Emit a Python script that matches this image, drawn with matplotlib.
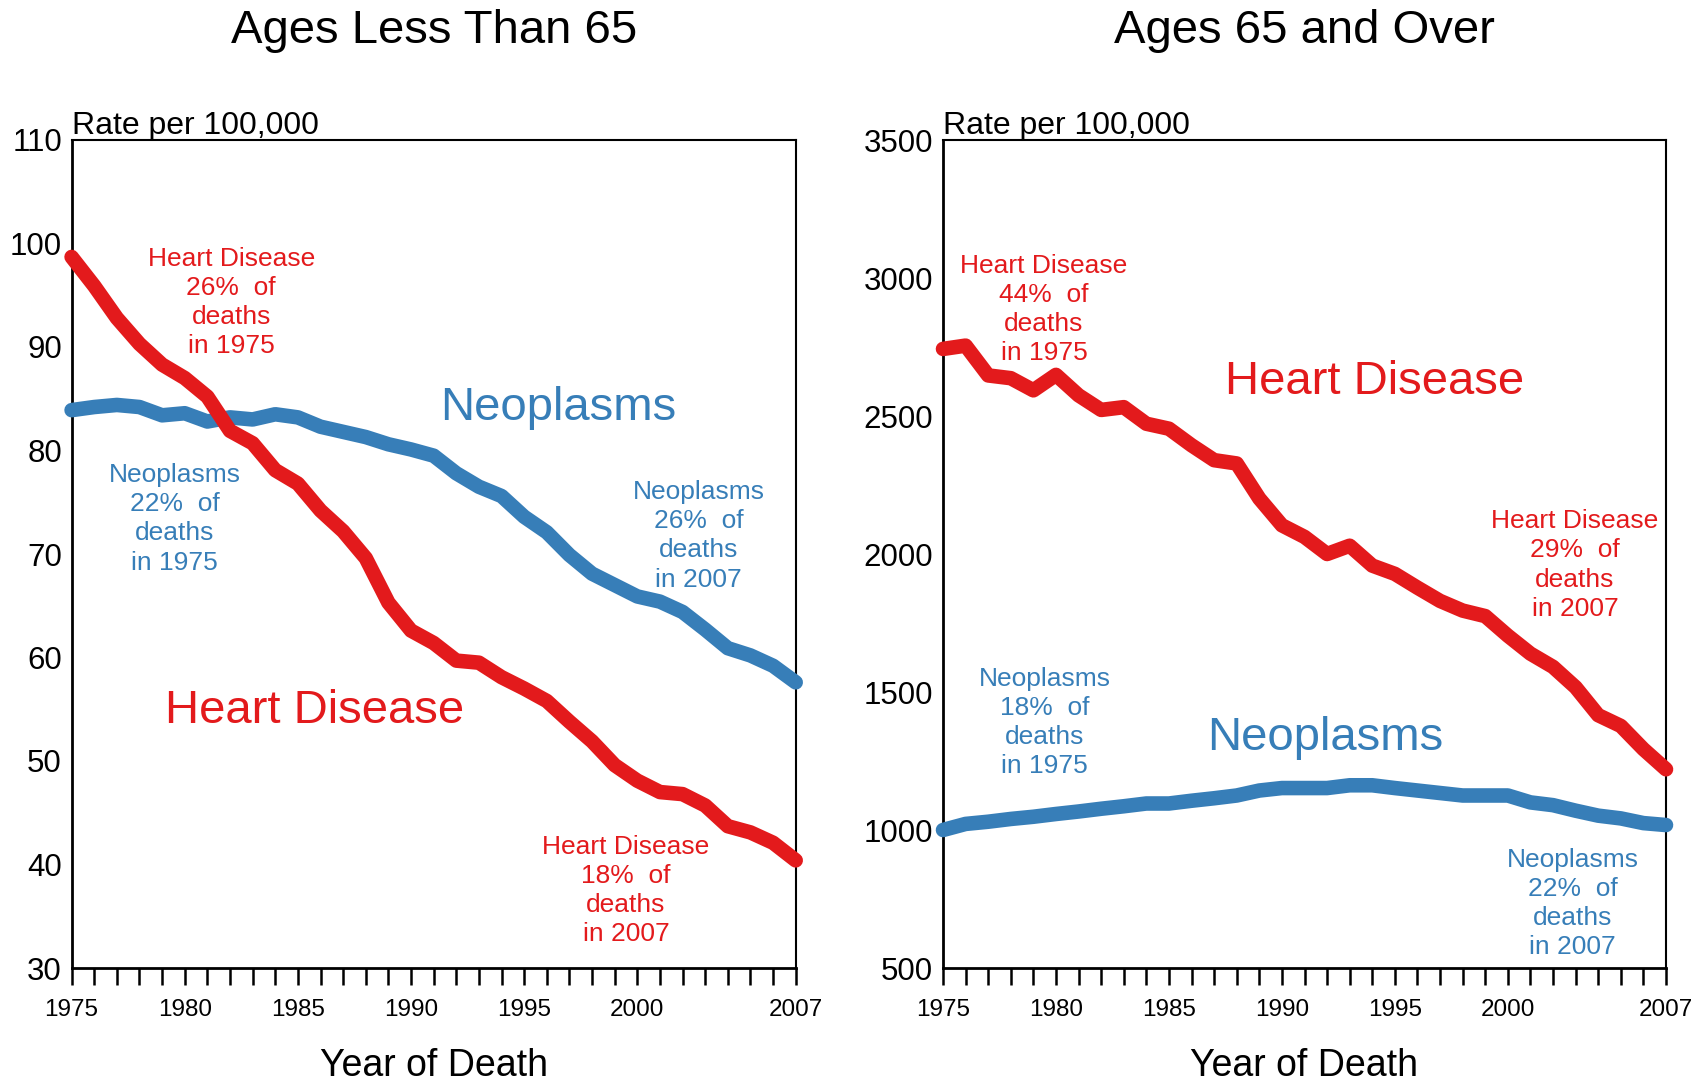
import matplotlib
matplotlib.use("Agg")
import matplotlib.pyplot as plt
import numpy as np

plt.rcParams['font.family'] = ['Liberation Sans', 'DejaVu Sans']

years = list(range(1975, 2008))

# Ages less than 65 (rate per 100,000)
heart_u65 = [98.7, 95.9, 92.8, 90.3, 88.3, 87.0, 85.2, 81.9, 80.7, 78.1, 76.8,
             74.2, 72.2, 69.6, 65.3, 62.6, 61.4, 59.7, 59.5, 58.1, 57.0, 55.8,
             53.8, 51.9, 49.6, 48.1, 47.0, 46.8, 45.7, 43.7, 43.1, 42.1, 40.4]
neo_u65 = [83.9, 84.2, 84.4, 84.2, 83.4, 83.6, 82.8, 83.2, 83.0, 83.5, 83.2,
           82.3, 81.8, 81.3, 80.6, 80.1, 79.5, 77.8, 76.5, 75.6, 73.6, 72.1,
           69.9, 68.1, 67.0, 65.9, 65.4, 64.4, 62.7, 60.9, 60.2, 59.2, 57.6]

# Ages 65 and over (rate per 100,000)
heart_65p = [2743, 2755, 2647, 2637, 2593, 2649, 2575, 2522, 2532, 2472, 2454,
             2394, 2340, 2328, 2201, 2104, 2062, 2000, 2030, 1958, 1928, 1878,
             1830, 1795, 1775, 1704, 1639, 1591, 1517, 1416, 1377, 1293, 1220]
neo_65p = [1000, 1022, 1030, 1040, 1048, 1058, 1067, 1077, 1086, 1096, 1096,
           1106, 1115, 1125, 1143, 1152, 1152, 1152, 1162, 1162, 1152, 1143,
           1134, 1125, 1125, 1125, 1100, 1090, 1070, 1052, 1042, 1025, 1018]

xtick_labels = [1975, 1980, 1985, 1990, 1995, 2000, 2007]

RED = '#E31A1C'
BLUE = '#377EB8'

fig = plt.figure(figsize=(17.02, 10.86), dpi=100)
W, H = 1702, 1086
axL = fig.add_axes([71.6 / W, 1 - 968 / H, (795.7 - 71.6) / W, (968 - 140) / H])
axR = fig.add_axes([943 / W, 1 - 968 / H, (1666 - 943) / W, (968 - 140) / H])


def style(ax, ylim, yticks):
    ax.set_xlim(1975, 2007)
    ax.set_ylim(*ylim)
    ax.set_yticks(yticks)
    ax.set_yticklabels([str(v) for v in yticks], fontsize=22.5)
    ax.set_xticks(years)
    ax.set_xticklabels([str(y) if y in xtick_labels else '' for y in years], fontsize=17.5)
    ax.tick_params(axis='x', direction='out', length=12, width=1.8, pad=10, color='black')
    ax.tick_params(axis='y', length=0, pad=7)
    for s in ['top', 'right']:
        ax.spines[s].set_linewidth(1.5)
    for s in ['left', 'bottom']:
        ax.spines[s].set_linewidth(2.0)
    ax.text(0.0, 0.999, 'Rate per 100,000', transform=ax.transAxes, ha='left', va='bottom', fontsize=23)
    ax.set_xlabel('Year of Death', fontsize=27, labelpad=20)


lw = 10.5
axL.plot(years, neo_u65, color=BLUE, lw=lw, solid_capstyle='round', solid_joinstyle='round', clip_on=False, zorder=3)
axL.plot(years, heart_u65, color=RED, lw=lw, solid_capstyle='round', solid_joinstyle='round', clip_on=False, zorder=4)
style(axL, (30, 110), list(range(30, 111, 10)))

axR.plot(years, neo_65p, color=BLUE, lw=lw, solid_capstyle='round', solid_joinstyle='round', clip_on=False, zorder=3)
axR.plot(years, heart_65p, color=RED, lw=lw, solid_capstyle='round', solid_joinstyle='round', clip_on=False, zorder=4)
style(axR, (500, 3500), list(range(500, 3501, 500)))

ann = dict(ha='center', va='center', fontsize=19, linespacing=1.27)
big = dict(ha='center', va='center', fontsize=34)

axL.text(1982.05, 94.3, 'Heart Disease\n26%  of\ndeaths\nin 1975', color=RED, **ann)
axL.text(1979.56, 73.4, 'Neoplasms\n22%  of\ndeaths\nin 1975', color=BLUE, **ann)
axL.text(2002.7, 71.75, 'Neoplasms\n26%  of\ndeaths\nin 2007', color=BLUE, **ann)
axL.text(1999.5, 37.5, 'Heart Disease\n18%  of\ndeaths\nin 2007', color=RED, **ann)
axL.text(1996.5, 84.1, 'Neoplasms', color=BLUE, **big)
axL.text(1985.75, 54.8, 'Heart Disease', color=RED, **big)

axR.text(1979.47, 2885, 'Heart Disease\n44%  of\ndeaths\nin 1975', color=RED, **ann)
axR.text(2002.97, 1960, 'Heart Disease\n29%  of\ndeaths\nin 2007', color=RED, **ann)
axR.text(1979.5, 1390, 'Neoplasms\n18%  of\ndeaths\nin 1975', color=BLUE, **ann)
axR.text(2002.87, 733, 'Neoplasms\n22%  of\ndeaths\nin 2007', color=BLUE, **ann)
axR.text(1994.08, 2625, 'Heart Disease', color=RED, **big)
axR.text(1991.9, 1332, 'Neoplasms', color=BLUE, **big)

fig.text((71.6 + 795.7) / 2 / W, 1 - 31 / H, 'Ages Less Than 65', ha='center', va='center', fontsize=34)
fig.text((943 + 1666) / 2 / W, 1 - 31 / H, 'Ages 65 and Over', ha='center', va='center', fontsize=34)

fig.savefig('out.png', dpi=100)
